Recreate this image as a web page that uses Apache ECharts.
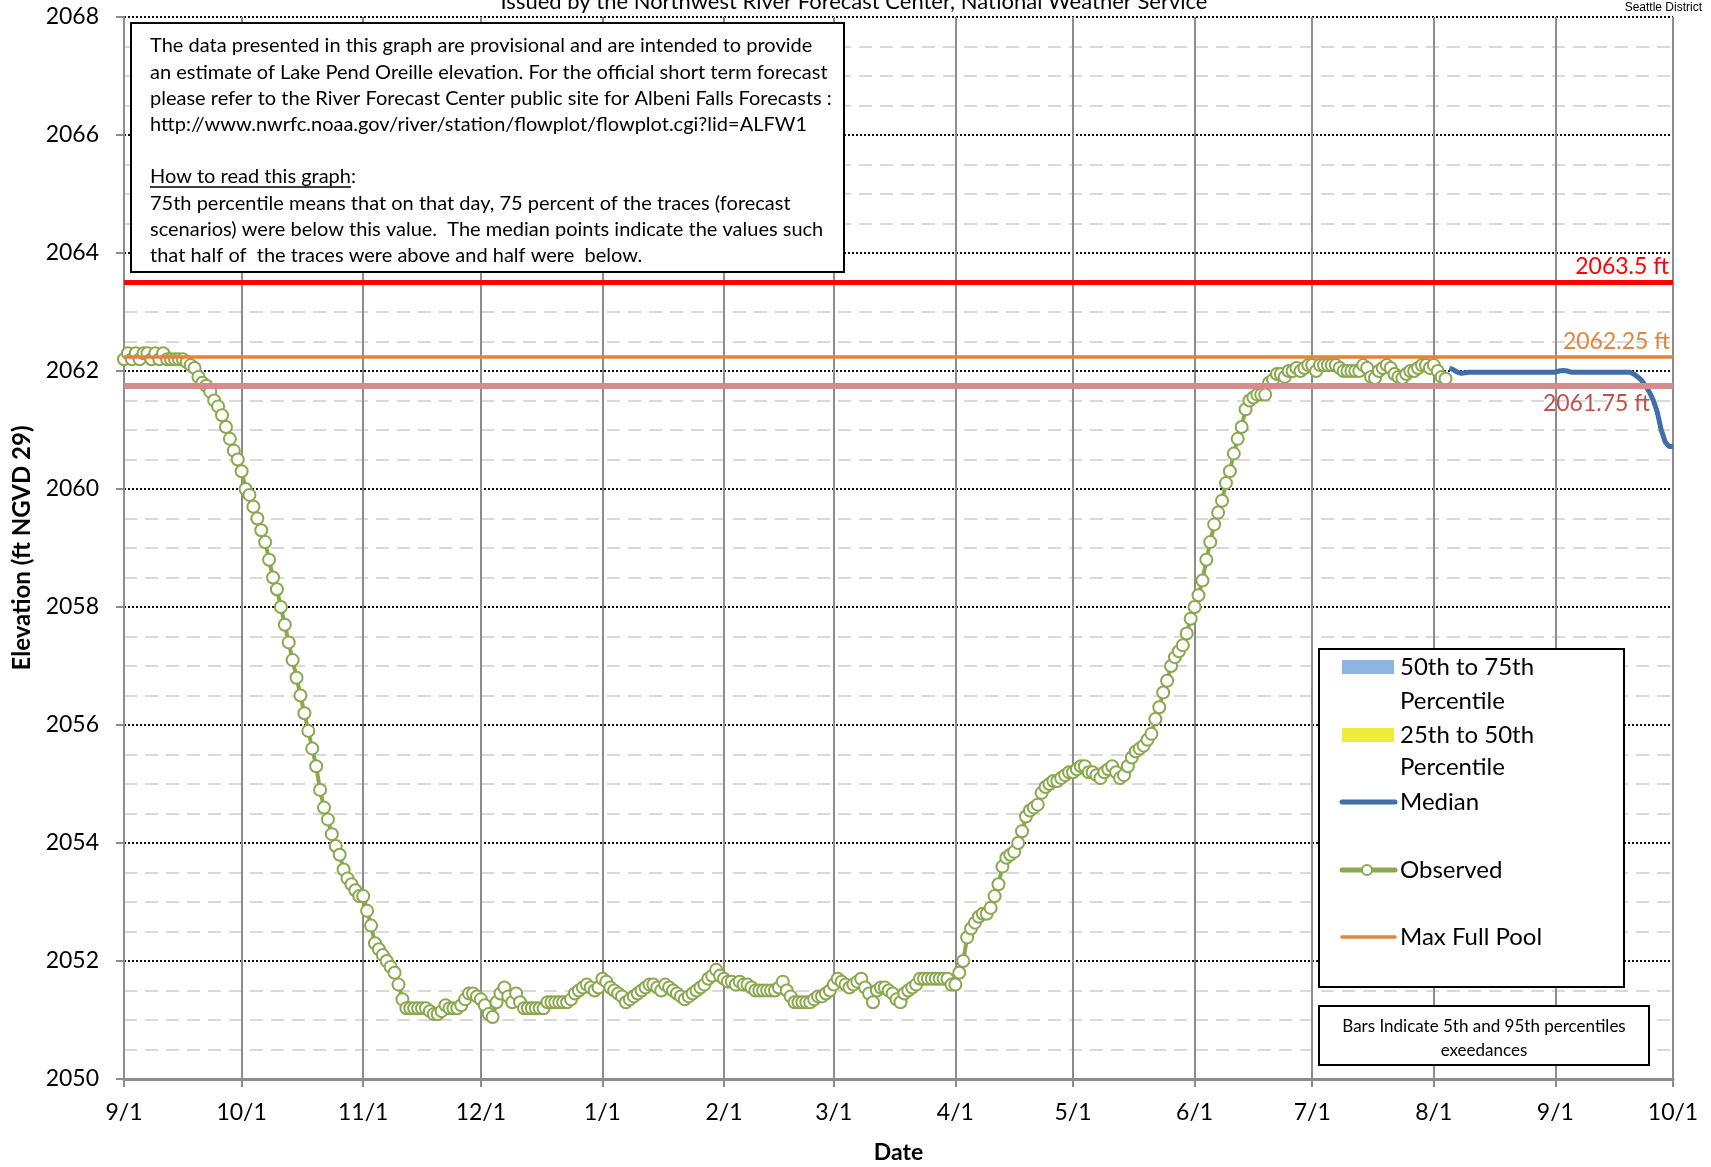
<!DOCTYPE html>
<html><head><meta charset="utf-8">
<script src="https://cdn.jsdelivr.net/npm/echarts@6/dist/echarts.min.js"></script>
<style>html,body{margin:0;padding:0;background:#fff}#c{width:1711px;height:1167px}</style>
</head><body><div id="c"></div>
<script>
// ---------------- DATA ----------------
// Observed daily elevation (ft), starting 9/1
const obsSep = [2062.2, 2062.3, 2062.2, 2062.3, 2062.2, 2062.3, 2062.3, 2062.2, 2062.3, 2062.2, 2062.3, 2062.2, 2062.2, 2062.2, 2062.2, 2062.2, 2062.15, 2062.1, 2062.05, 2061.9, 2061.8, 2061.75, 2061.65, 2061.5, 2061.4, 2061.25, 2061.05, 2060.85, 2060.65, 2060.5];
const obsOct = [2060.3, 2060.0, 2059.9, 2059.7, 2059.5, 2059.3, 2059.1, 2058.8, 2058.5, 2058.3, 2058.0, 2057.7, 2057.4, 2057.1, 2056.8, 2056.5, 2056.2, 2055.9, 2055.6, 2055.3, 2054.9, 2054.6, 2054.4, 2054.15, 2053.95, 2053.8, 2053.55, 2053.4, 2053.3, 2053.2, 2053.1];
const obsNov = [2053.1, 2052.85, 2052.6, 2052.3, 2052.2, 2052.1, 2052.0, 2051.9, 2051.8, 2051.6, 2051.35, 2051.2, 2051.2, 2051.2, 2051.2, 2051.2, 2051.2, 2051.15, 2051.1, 2051.1, 2051.15, 2051.25, 2051.2, 2051.2, 2051.2, 2051.25, 2051.35, 2051.45, 2051.45, 2051.4];
const obsDec = [2051.35, 2051.25, 2051.1, 2051.05, 2051.3, 2051.45, 2051.55, 2051.4, 2051.3, 2051.45, 2051.3, 2051.2, 2051.2, 2051.2, 2051.2, 2051.2, 2051.2, 2051.3, 2051.3, 2051.3, 2051.3, 2051.3, 2051.3, 2051.35, 2051.45, 2051.5, 2051.55, 2051.6, 2051.55, 2051.5, 2051.55];
const obsJan = [2051.7, 2051.65, 2051.55, 2051.5, 2051.45, 2051.4, 2051.3, 2051.35, 2051.4, 2051.45, 2051.5, 2051.55, 2051.6, 2051.6, 2051.55, 2051.5, 2051.6, 2051.55, 2051.5, 2051.45, 2051.4, 2051.35, 2051.4, 2051.45, 2051.5, 2051.55, 2051.6, 2051.7, 2051.75, 2051.85, 2051.75];
const obsFeb = [2051.7, 2051.65, 2051.65, 2051.6, 2051.65, 2051.6, 2051.6, 2051.55, 2051.5, 2051.5, 2051.5, 2051.5, 2051.5, 2051.5, 2051.55, 2051.65, 2051.5, 2051.4, 2051.3, 2051.3, 2051.3, 2051.3, 2051.3, 2051.35, 2051.4, 2051.4, 2051.45, 2051.5];
const obsMar = [2051.6, 2051.7, 2051.65, 2051.6, 2051.55, 2051.6, 2051.65, 2051.7, 2051.55, 2051.45, 2051.3, 2051.5, 2051.55, 2051.55, 2051.5, 2051.45, 2051.35, 2051.3, 2051.45, 2051.5, 2051.55, 2051.6, 2051.7, 2051.7, 2051.7, 2051.7, 2051.7, 2051.7, 2051.7, 2051.7, 2051.6];
const obsApr = [2051.6, 2051.8, 2052.0, 2052.4, 2052.55, 2052.65, 2052.75, 2052.8, 2052.8, 2052.9, 2053.1, 2053.3, 2053.6, 2053.75, 2053.8, 2053.85, 2054.0, 2054.2, 2054.45, 2054.55, 2054.6, 2054.65, 2054.85, 2054.95, 2055.0, 2055.05, 2055.05, 2055.1, 2055.15, 2055.2];
const obsMay = [2055.2, 2055.25, 2055.3, 2055.3, 2055.2, 2055.2, 2055.15, 2055.1, 2055.2, 2055.25, 2055.3, 2055.2, 2055.1, 2055.15, 2055.3, 2055.45, 2055.55, 2055.6, 2055.65, 2055.75, 2055.85, 2056.1, 2056.3, 2056.55, 2056.75, 2057.0, 2057.15, 2057.25, 2057.35, 2057.55, 2057.8];
const obsJun = [2058.0, 2058.2, 2058.45, 2058.8, 2059.1, 2059.4, 2059.6, 2059.8, 2060.1, 2060.3, 2060.6, 2060.85, 2061.05, 2061.35, 2061.5, 2061.55, 2061.6, 2061.6, 2061.6, 2061.8, 2061.85, 2061.95, 2061.95, 2061.9, 2062.0, 2062.0, 2062.05, 2062.0, 2062.05, 2062.1];
const obsJul = [2062.1, 2062.0, 2062.1, 2062.1, 2062.1, 2062.1, 2062.1, 2062.05, 2062.0, 2062.0, 2062.0, 2062.0, 2062.0, 2062.1, 2062.05, 2061.9, 2061.88, 2062.0, 2062.05, 2062.1, 2062.05, 2061.95, 2061.9, 2061.88, 2061.95, 2062.0, 2062.0, 2062.05, 2062.1, 2062.1, 2062.05];
const obsAug = [2062.1, 2062.0, 2061.9, 2061.87];
// Median forecast, starting 8/5
const medAug = [2062.05, 2062.02, 2061.98, 2061.96, 2061.97, 2061.98, 2061.98, 2061.98, 2061.98, 2061.98, 2061.98, 2061.98, 2061.98, 2061.98, 2061.98, 2061.98, 2061.98, 2061.98, 2061.98, 2061.98, 2061.98, 2061.98, 2061.98, 2061.98, 2061.98, 2061.98, 2061.98];
const medSep = [2061.98, 2062.0, 2062.01, 2062.0, 2061.98, 2061.98, 2061.98, 2061.98, 2061.98, 2061.98, 2061.98, 2061.98, 2061.98, 2061.98, 2061.98, 2061.98, 2061.98, 2061.98, 2061.98, 2061.98, 2061.95, 2061.9, 2061.84, 2061.75, 2061.64, 2061.5, 2061.3, 2061.0, 2060.8, 2060.72];
const medOct = [2060.72];
// Reference levels
const refLevels = [2063.5, 2062.25, 2061.75];
const refLabels = ['2063.5 ft', '2062.25 ft', '2061.75 ft'];
// Month tick labels
const tickLabels = ['9/1', '10/1', '11/1', '12/1', '1/1', '2/1', '3/1', '4/1', '5/1', '6/1', '7/1', '8/1', '9/1', '10/1'];
const legendLabels = ['50th to 75th', 'Percentile', '25th to 50th', 'Percentile', 'Median', 'Observed', 'Max Full Pool'];
const noteLines = [
  'The data presented in this graph are provisional and are intended to provide',
  'an estimate of Lake Pend Oreille elevation. For the official short term forecast',
  'please refer to the River Forecast Center public site for Albeni Falls Forecasts :',
  'http://www.nwrfc.noaa.gov/river/station/flowplot/flowplot.cgi?lid=ALFW1',
  '',
  'How to read this graph:',
  '75th percentile means that on that day, 75 percent of the traces (forecast',
  'scenarios) were below this value.  The median points indicate the values such',
  'that half of  the traces were above and half were  below.'
];
const barsNote = ['Bars Indicate 5th and 95th percentiles', 'exeedances'];
const titleText = 'Issued by the Northwest River Forecast Center, National Weather Service';

// ---------------- BUILD ----------------
const MEDIAN_START_DAY = 338;
function dayTs(i) { return new Date(2018, 8, 1 + i).getTime(); }
const observed = [].concat(obsSep, obsOct, obsNov, obsDec, obsJan, obsFeb, obsMar, obsApr, obsMay, obsJun, obsJul, obsAug);
const median = [].concat(medAug, medSep, medOct);
const obsData = observed.map((v, i) => [dayTs(i), v]);
const medData = median.map((v, i) => [dayTs(MEDIAN_START_DAY + i), v]);

const FONT = 'Lato, "Open Sans", sans-serif';
const GREEN = '#8aa84e', BLUE = '#3f6ea8', ORANGE = '#e0853b';

function measure(text, font) {
  const c = document.createElement('canvas').getContext('2d');
  c.font = font; return c.measureText(text).width;
}

const chart = echarts.init(document.getElementById('c'), null, {renderer: 'canvas'});

const NOTE_FS = 20;
const noteGraphics = [];
noteGraphics.push({type: 'rect', shape: {x: 131, y: 23, width: 713, height: 249}, style: {fill: '#fff', stroke: '#000', lineWidth: 2}, z: 100});
noteLines.forEach((t, i) => {
  if (!t) return;
  noteGraphics.push({type: 'text', x: 150, y: 46 + i * 26.2, style: {text: t, font: NOTE_FS + 'px ' + FONT, fill: '#000', verticalAlign: 'middle'}, z: 101});
});
const ulW = measure('How to read this graph', NOTE_FS + 'px ' + FONT);
const ulY = 46 + 5 * 26.2 + 10;
noteGraphics.push({type: 'line', shape: {x1: 150, y1: ulY, x2: 150 + ulW, y2: ulY}, style: {stroke: '#000', lineWidth: 1.5}, z: 101});

const LEG_FS = 24;
const lt = (t, y) => ({type: 'text', x: 1400, y: y, style: {text: t, font: LEG_FS + 'px ' + FONT, fill: '#000', verticalAlign: 'middle'}, z: 101});
const legendGraphics = [
  {type: 'rect', shape: {x: 1319, y: 649, width: 305, height: 338}, style: {fill: '#fff', stroke: '#000', lineWidth: 2}, z: 100},
  {type: 'rect', shape: {x: 1342, y: 660, width: 52, height: 14}, style: {fill: '#8db4e2'}, z: 101},
  lt(legendLabels[0], 667), lt(legendLabels[1], 701),
  {type: 'rect', shape: {x: 1342, y: 728, width: 52, height: 14}, style: {fill: '#f0ec3a'}, z: 101},
  lt(legendLabels[2], 735), lt(legendLabels[3], 767),
  {type: 'line', shape: {x1: 1342, y1: 802, x2: 1395, y2: 802}, style: {stroke: BLUE, lineWidth: 5, lineCap: 'round'}, z: 101},
  lt(legendLabels[4], 802),
  {type: 'line', shape: {x1: 1342, y1: 870, x2: 1395, y2: 870}, style: {stroke: GREEN, lineWidth: 5, lineCap: 'round'}, z: 101},
  {type: 'circle', shape: {cx: 1367, cy: 870, r: 5}, style: {fill: '#fff', stroke: GREEN, lineWidth: 2}, z: 102},
  lt(legendLabels[5], 870),
  {type: 'line', shape: {x1: 1342, y1: 937, x2: 1395, y2: 937}, style: {stroke: ORANGE, lineWidth: 3.5, lineCap: 'round'}, z: 101},
  lt(legendLabels[6], 937),
  {type: 'rect', shape: {x: 1319, y: 1006, width: 330, height: 59}, style: {fill: '#fff', stroke: '#000', lineWidth: 2}, z: 100},
  {type: 'text', x: 1484, y: 1027, style: {text: barsNote[0], font: '17px ' + FONT, fill: '#000', align: 'center', verticalAlign: 'middle'}, z: 101},
  {type: 'text', x: 1484, y: 1051, style: {text: barsNote[1], font: '17px ' + FONT, fill: '#000', align: 'center', verticalAlign: 'middle'}, z: 101}
];

const monthTs = tickLabels.map((l, i) => new Date(2018, 8 + i, 1).getTime());

const option = {
  animation: false,
  backgroundColor: '#fff',
  grid: {left: 124, top: 17, right: 38, bottom: 88, containLabel: false, outerBoundsMode: 'none'},
  xAxis: {
    type: 'time', min: dayTs(0), max: dayTs(395), splitNumber: 13,
    axisLine: {show: true, lineStyle: {color: '#8c8c8c', width: 3}},
    axisTick: {show: true, length: 8, lineStyle: {color: '#8c8c8c', width: 2}},
    axisLabel: {
      color: '#000', fontSize: 23, fontFamily: FONT, margin: 22, showMinLabel: true, showMaxLabel: true, hideOverlap: false,
      formatter: function (val) {
        const idx = monthTs.findIndex(t => Math.abs(t - val) < 43200000);
        if (idx >= 0) return tickLabels[idx];
        const d = new Date(val); return (d.getMonth() + 1) + '/' + d.getDate();
      }
    },
    splitLine: {show: true, lineStyle: {color: '#8c8c8c', width: 2}},
    name: 'Date', nameLocation: 'middle', nameGap: 62,
    nameTextStyle: {fontSize: 23, fontWeight: 'bold', fontFamily: FONT, color: '#000'}
  },
  yAxis: {
    type: 'value', min: 2050, max: 2068, interval: 2,
    axisLine: {show: true, lineStyle: {color: '#8c8c8c', width: 2}},
    axisTick: {show: true, length: 8, lineStyle: {color: '#8c8c8c', width: 2}},
    axisLabel: {color: '#000', fontSize: 23, fontFamily: FONT, margin: 25, formatter: v => String(v)},
    splitLine: {show: true, lineStyle: {color: '#111', width: 2, type: [2, 2]}},
    minorTick: {show: false, splitNumber: 4},
    minorSplitLine: {show: true, lineStyle: {color: '#d9d9d9', width: 2, type: [13, 8]}},
    name: 'Elevation (ft NGVD 29)', nameLocation: 'middle', nameGap: 88,
    nameTextStyle: {fontSize: 24, fontWeight: 'bold', fontFamily: FONT, color: '#000'}
  },
  series: [
    {
      name: 'refs', type: 'line', data: [], silent: true,
      markLine: {
        symbol: 'none', silent: true, animation: false,
        data: [
          {yAxis: refLevels[0], lineStyle: {color: '#ff0000', width: 5, type: 'solid'},
           label: {formatter: refLabels[0], position: 'insideEndTop', color: '#ff0000', fontSize: 23, fontFamily: FONT, distance: 4}},
          {yAxis: refLevels[1], lineStyle: {color: ORANGE, width: 3.5, type: 'solid'},
           label: {formatter: refLabels[1], position: 'insideEndTop', color: ORANGE, fontSize: 23, fontFamily: FONT, distance: 3}},
          {yAxis: refLevels[2], lineStyle: {color: '#d28d8e', width: 6, type: 'solid'},
           label: {formatter: refLabels[2], position: 'insideEndBottom', color: '#c0504d', fontSize: 23, fontFamily: FONT, distance: 6, padding: [0, 17, 0, 0]}}
        ]
      }
    },
    {
      name: 'Observed', type: 'line', data: obsData,
      symbol: 'circle', symbolSize: 12, showAllSymbol: true,
      itemStyle: {color: '#fff', borderColor: GREEN, borderWidth: 2},
      lineStyle: {color: GREEN, width: 4}, z: 3
    },
    {
      name: 'Median', type: 'line', data: medData, symbol: 'none',
      lineStyle: {color: BLUE, width: 5}, z: 4
    }
  ],
  graphic: [
    {type: 'text', x: 854, y: 2, style: {text: titleText, font: '22px ' + FONT, fill: '#000', align: 'center', verticalAlign: 'middle'}},
    {type: 'text', x: 1702, y: 8, style: {text: 'Seattle District', font: '12px "Liberation Sans", Arial, sans-serif', fill: '#000', align: 'right', verticalAlign: 'middle'}}
  ].concat(noteGraphics, legendGraphics)
};
chart.setOption(option);
</script></body></html>
